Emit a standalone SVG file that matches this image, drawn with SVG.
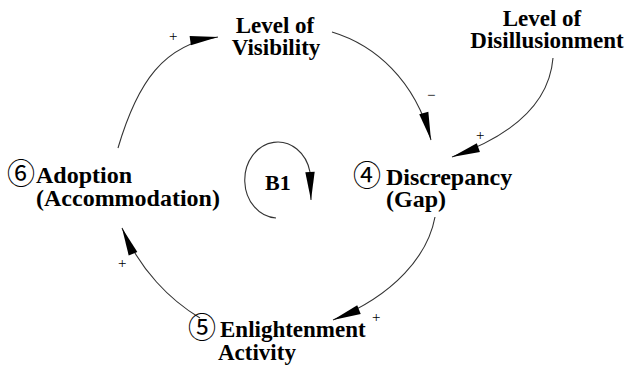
<svg xmlns="http://www.w3.org/2000/svg" width="627" height="370" viewBox="0 0 627 370">
<style>
.conn{fill:none;stroke:#333;stroke-width:1.1}
</style>
<defs>
<marker id="ah" markerUnits="userSpaceOnUse" markerWidth="30" markerHeight="12" refX="28" refY="5" orient="auto" overflow="visible">
<path d="M0,0.3 L28,5 L0,9.7 Z" fill="#000"/>
</marker>
</defs>
<rect width="627" height="370" fill="#fff"/>
<g id="connectors">
<path class="conn" d="M118,148 C137.5,81.7 164,44.2 218,37" marker-end="url(#ah)"/>
<path class="conn" d="M332,32 C375,45 415,80 431,140" marker-end="url(#ah)"/>
<path class="conn" d="M553,58 C550,95 525,131 452,157" marker-end="url(#ah)"/>
<path class="conn" d="M435,217 C428,255 395,295 333,320" marker-end="url(#ah)"/>
<path class="conn" d="M200,318 C170,300 140,270 122,228" marker-end="url(#ah)"/>
<g font-family="Liberation Serif, Times New Roman, serif" font-size="15" fill="#000">
<text x="169" y="41">+</text>
<text x="427" y="100">−</text>
<text x="476" y="140">+</text>
<text x="372" y="322">+</text>
<text x="118" y="268">+</text>
</g>
</g>
<g font-family="Liberation Serif, Times New Roman, serif" font-weight="bold" fill="#000">
<g id="visibility" font-size="23">
<text x="275" y="33" text-anchor="middle">Level of</text>
<text x="276" y="55" text-anchor="middle">Visibility</text>
</g>
<g id="disillusionment" font-size="23">
<text x="542" y="26" text-anchor="middle">Level of</text>
<text x="547" y="48" text-anchor="middle">Disillusionment</text>
</g>
<g id="discrepancy" font-size="24">
<text x="353" y="186" font-family="Noto Sans CJK JP, DejaVu Sans, sans-serif" font-weight="normal" font-size="28">④</text>
<text x="386" y="185">Discrepancy</text>
<text x="386" y="207">(Gap)</text>
</g>
<g id="adoption" font-size="24">
<text x="7" y="184" font-family="Noto Sans CJK JP, DejaVu Sans, sans-serif" font-weight="normal" font-size="28">⑥</text>
<text x="36" y="183">Adoption</text>
<text x="36" y="206">(Accommodation)</text>
</g>
<g id="enlightenment" font-size="23">
<text x="188" y="338" font-family="Noto Sans CJK JP, DejaVu Sans, sans-serif" font-weight="normal" font-size="28">⑤</text>
<text x="220" y="337">Enlightenment</text>
<text x="218" y="360">Activity</text>
</g>
<g id="loop-b1" font-size="22">
<path class="conn" d="M276,218 A33,38 0 1 1 310,172 L311,200" marker-end="url(#ah)"/>
<text x="265" y="190">B1</text>
</g>
</g>
</svg>
